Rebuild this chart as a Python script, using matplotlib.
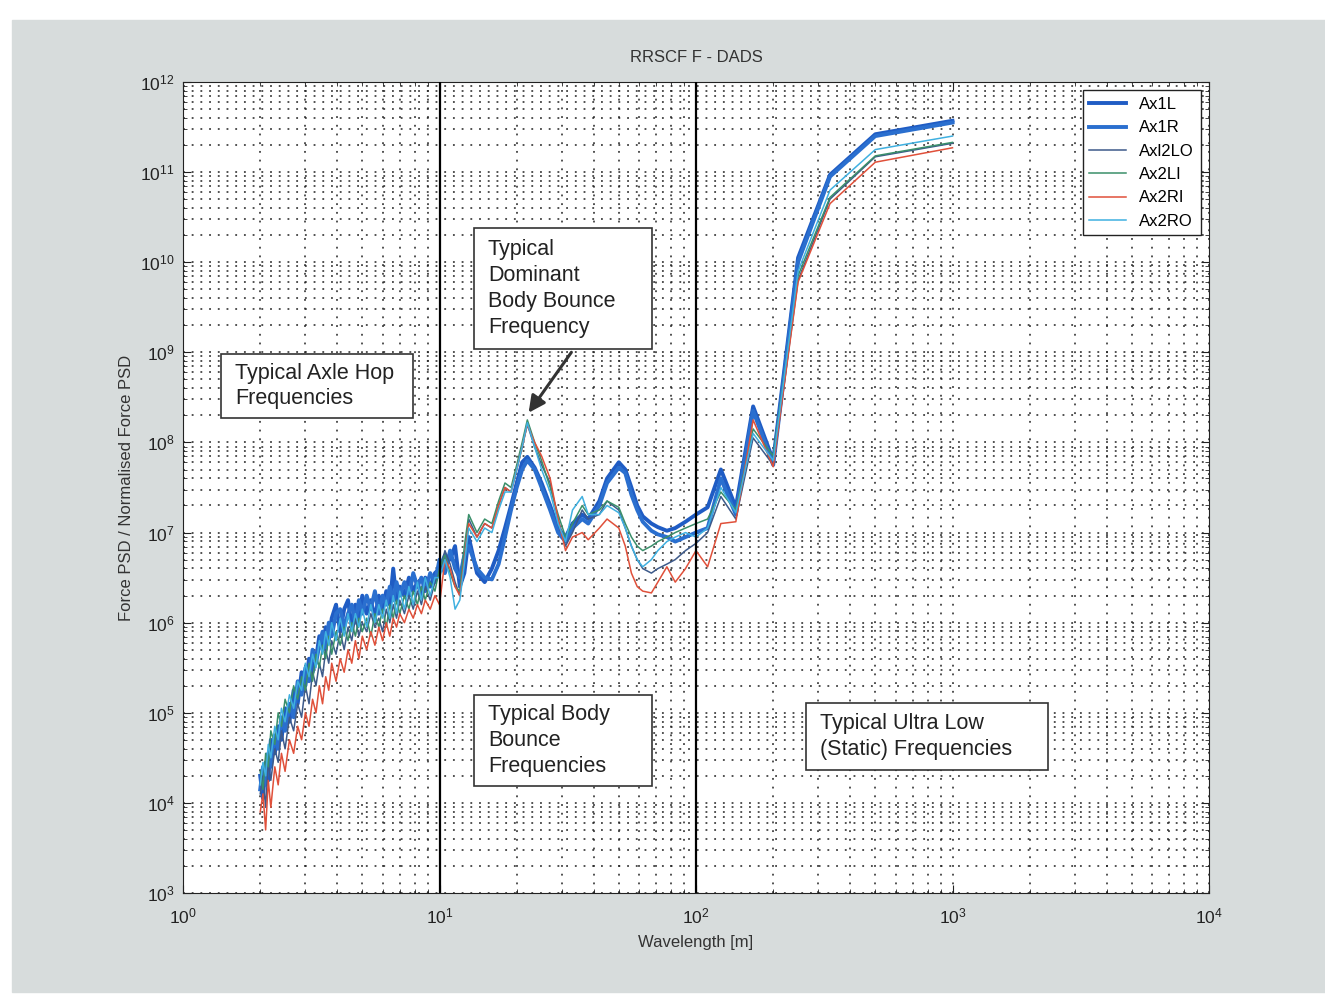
import matplotlib
matplotlib.use("Agg")
import matplotlib.pyplot as plt
from matplotlib.patches import Rectangle
from matplotlib.ticker import NullFormatter

# wavelength grid [m]
wavelength = [2.0, 2.05, 2.1, 2.15, 2.2, 2.28, 2.35, 2.42, 2.5, 2.6,
              2.7, 2.8, 2.9, 3.0, 3.1, 3.2, 3.3, 3.4, 3.5, 3.6,
              3.7, 3.8, 3.95, 4.1, 4.25, 4.4, 4.55, 4.7, 4.85, 5.0,
              5.2, 5.4, 5.6, 5.8, 6.0, 6.2, 6.4, 6.6, 6.8, 7.0,
              7.3, 7.6, 7.9, 8.2, 8.5, 8.8, 9.2, 9.6,
              10, 10.5, 11, 11.5, 12, 12.5, 13, 14, 15, 16,
              17, 18, 19, 20, 21, 22, 23.5, 25, 27, 29,
              31, 33, 36, 38, 42, 45, 50, 53, 56, 59,
              62, 67, 71, 77, 83, 91, 100,
              111, 125, 143, 167, 200, 250, 333, 500, 1000]

# PSD values, stored as log10
ax1l = [4.30, 4.05, 4.45, 4.25, 4.70, 4.55, 4.85, 4.70, 5.05, 4.90,
        5.25, 5.10, 5.45, 5.30, 5.60, 5.45, 5.60, 5.85, 5.70, 5.95,
        5.80, 6.05, 6.20, 5.90, 6.15, 6.25, 5.95, 6.20, 6.05, 6.30,
        6.10, 6.25, 6.05, 6.30, 6.15, 6.35, 6.20, 6.60, 6.25, 6.40,
        6.30, 6.50, 6.35, 6.45, 6.30, 6.50, 6.40, 6.55,
        6.60, 6.75, 6.70, 6.85, 6.40, 6.55, 6.95, 6.55, 6.45, 6.60,
        6.80, 7.05, 7.30, 7.55, 7.78, 7.84, 7.72, 7.55, 7.30, 7.05,
        6.95, 7.10, 7.20, 7.15, 7.35, 7.60, 7.78, 7.70, 7.50, 7.30,
        7.18, 7.10, 7.06, 7.02, 7.05, 7.12, 7.20,
        7.28, 7.70, 7.28, 8.40, 7.80, 10.05, 10.97, 11.42, 11.57]

ax1r = [4.15, 4.40, 4.20, 4.55, 4.40, 4.75, 4.60, 4.95, 4.80, 5.10,
        4.95, 5.35, 5.20, 5.50, 5.35, 5.70, 5.55, 5.75, 5.90, 5.70,
        6.00, 5.85, 6.10, 6.15, 5.95, 6.10, 6.20, 6.00, 6.25, 6.10,
        6.30, 6.15, 6.35, 6.10, 6.30, 6.20, 6.40, 6.25, 6.45, 6.30,
        6.45, 6.30, 6.55, 6.40, 6.50, 6.35, 6.55, 6.45,
        6.70, 6.55, 6.80, 6.60, 6.50, 6.75, 6.85, 6.60, 6.50, 6.48,
        6.65, 6.95, 7.25, 7.50, 7.70, 7.80, 7.70, 7.50, 7.25, 7.00,
        6.90, 7.05, 7.15, 7.10, 7.30, 7.55, 7.72, 7.66, 7.42, 7.25,
        7.12, 7.02, 6.98, 6.95, 6.90, 6.95, 7.00,
        7.05, 7.60, 7.20, 8.35, 7.75, 10.00, 10.95, 11.40, 11.55]

axl2lo = [4.10, 4.30, 3.95, 4.45, 4.25, 4.60, 4.45, 4.80, 4.60, 4.95,
          4.80, 5.10, 4.95, 5.30, 5.10, 5.45, 5.30, 5.55, 5.40, 5.70,
          5.55, 5.80, 5.65, 5.90, 5.70, 5.95, 5.80, 6.05, 5.85, 6.00,
          5.90, 6.10, 5.95, 6.05, 5.90, 6.15, 6.00, 6.20, 6.05, 6.25,
          6.10, 6.30, 6.15, 6.35, 6.20, 6.40, 6.25, 6.45,
          6.55, 6.80, 6.65, 6.45, 6.30, 6.70, 7.15, 6.95, 7.10, 7.05,
          7.30, 7.50, 7.45, 7.70, 7.95, 8.20, 7.95, 7.75, 7.55, 7.15,
          6.85, 7.00, 7.25, 7.15, 7.20, 7.35, 7.25, 7.05, 6.85, 6.70,
          6.60, 6.55, 6.60, 6.65, 6.70, 6.80, 6.88,
          7.00, 7.40, 7.15, 8.05, 7.75, 9.80, 10.70, 11.17, 11.32]

ax2li = [4.35, 4.15, 4.55, 4.40, 4.80, 4.65, 5.00, 4.85, 5.15, 5.00,
         5.30, 5.15, 5.40, 5.25, 5.55, 5.35, 5.65, 5.50, 5.75, 5.60,
         5.85, 5.65, 5.90, 5.75, 5.95, 5.80, 6.00, 5.85, 6.05, 5.90,
         6.05, 5.85, 6.10, 5.95, 6.15, 5.95, 6.20, 6.05, 6.25, 6.10,
         6.30, 6.15, 6.35, 6.20, 6.40, 6.25, 6.45, 6.35,
         6.60, 6.75, 6.55, 6.40, 6.35, 6.85, 7.20, 7.00, 7.15, 7.10,
         7.35, 7.55, 7.50, 7.75, 8.00, 8.25, 8.00, 7.80, 7.50, 7.20,
         6.95, 7.10, 7.30, 7.20, 7.25, 7.35, 7.28, 7.10, 6.95, 6.85,
         6.80, 6.85, 6.90, 6.95, 7.00, 7.05, 7.10,
         7.15, 7.45, 7.25, 8.15, 7.85, 9.85, 10.72, 11.18, 11.33]

ax2ri = [3.90, 4.10, 3.70, 4.25, 3.95, 4.40, 4.20, 4.55, 4.35, 4.70,
         4.55, 4.85, 4.70, 5.00, 4.85, 5.15, 5.00, 5.30, 5.10, 5.40,
         5.25, 5.55, 5.35, 5.60, 5.45, 5.70, 5.55, 5.80, 5.60, 5.85,
         5.70, 5.90, 5.75, 5.95, 5.80, 6.00, 5.85, 6.05, 5.95, 6.10,
         6.00, 6.15, 6.05, 6.20, 6.10, 6.25, 6.15, 6.30,
         6.20, 6.70, 6.60, 6.40, 6.30, 6.70, 7.10, 6.95, 7.10, 7.05,
         7.30, 7.50, 7.45, 7.70, 7.95, 8.20, 8.00, 7.85, 7.60, 7.15,
         6.80, 6.95, 7.00, 6.92, 7.05, 7.15, 7.05, 6.85, 6.55, 6.40,
         6.35, 6.33, 6.45, 6.62, 6.45, 6.60, 6.80,
         6.62, 7.10, 7.12, 8.25, 7.73, 9.78, 10.65, 11.11, 11.27]

ax2ro = [4.20, 4.45, 4.30, 4.65, 4.50, 4.85, 4.70, 5.05, 4.90, 5.20,
         5.05, 5.35, 5.25, 5.55, 5.40, 5.65, 5.50, 5.80, 5.65, 5.90,
         5.75, 6.00, 5.80, 6.05, 5.85, 6.10, 5.90, 6.10, 5.95, 6.15,
         5.95, 6.20, 6.00, 6.20, 6.05, 6.25, 6.05, 6.30, 6.10, 6.35,
         6.15, 6.40, 6.20, 6.45, 6.25, 6.50, 6.30, 6.50,
         6.50, 6.70, 6.50, 6.15, 6.25, 6.65, 7.05, 6.90, 7.05, 7.00,
         7.25, 7.45, 7.45, 7.70, 7.95, 8.22, 7.95, 7.70, 7.45, 7.10,
         6.90, 7.25, 7.40, 7.20, 7.20, 7.30, 7.22, 7.05, 6.85, 6.70,
         6.62, 6.70, 6.80, 6.90, 6.95, 7.00, 6.95,
         7.05, 7.50, 7.22, 8.10, 7.80, 9.90, 10.80, 11.25, 11.40]

series = [("Ax1L", ax1l, "#1f5cc4", 2.8),
          ("Ax1R", ax1r, "#2a6fcf", 2.8),
          ("Axl2LO", axl2lo, "#3d5a8a", 1.1),
          ("Ax2LI", ax2li, "#3a8f6a", 1.1),
          ("Ax2RI", ax2ri, "#e0503a", 1.1),
          ("Ax2RO", ax2ro, "#3fb0e0", 1.1)]

plt.rcParams["font.family"] = ["Liberation Sans Narrow", "Liberation Sans", "DejaVu Sans"]
plt.rcParams["mathtext.default"] = "regular"

W, H = 1325, 1002
fig = plt.figure(figsize=(W / 100, H / 100), dpi=100)
fig.patch.set_facecolor("white")
fig.patches.append(Rectangle((12 / W, 1 - 992 / H), (W - 12) / W, (992 - 20) / H,
                             transform=fig.transFigure, color="#d7dcdc", zorder=-5))

# axes box in pixels: x 183..1209, y 82..893
AX_L, AX_R, AX_T, AX_B = 183, 1209, 82, 893
ax = fig.add_axes([AX_L / W, 1 - AX_B / H, (AX_R - AX_L) / W, (AX_B - AX_T) / H])
ax.set_facecolor("white")


def frac(px, py):
    return ((px - AX_L) / (AX_R - AX_L), (AX_B - py) / (AX_B - AX_T))


for name, vals, col, lw in series:
    ax.loglog(wavelength, [10 ** v for v in vals], color=col, lw=lw, label=name)

ax.axvline(10, color="black", lw=1.6, zorder=4)
ax.axvline(100, color="black", lw=1.6, zorder=4)

ax.set_xlim(1, 1e4)
ax.set_ylim(1e3, 1e12)
ax.xaxis.set_minor_formatter(NullFormatter())
ax.yaxis.set_minor_formatter(NullFormatter())
ax.grid(True, which="both", linestyle=(0, (1.2, 4.5)), color="#222222", lw=1.1)
ax.tick_params(which="both", direction="in", top=True, right=True, labelsize=12.5, colors="#222222")
ax.tick_params(which="major", length=6)
ax.tick_params(which="minor", length=3)
ax.tick_params(axis="x", pad=10)
ax.tick_params(axis="y", pad=6)
for s in ax.spines.values():
    s.set_color("#222222")

ax.set_xlabel("Wavelength [m]", fontsize=12, color="#333333", labelpad=6)
ax.set_ylabel("Force PSD / Normalised Force PSD", fontsize=12, color="#333333", labelpad=4)
fig.text(696 / W, 1 - 58 / H, "RRSCF F - DADS", fontsize=12, color="#333333",
         ha="center", va="center")

leg = ax.legend(loc="upper right", fontsize=12, fancybox=False, framealpha=1,
                edgecolor="#222222", labelspacing=0.5, handlelength=2.2,
                borderaxespad=0.5)
leg.get_frame().set_linewidth(1.0)

# annotation boxes (pixel corners: left, top, right, bottom)
boxes = [((221, 354, 413, 418), "Typical Axle Hop\nFrequencies"),
         ((474, 228, 652, 349), "Typical\nDominant\nBody Bounce\nFrequency"),
         ((474, 695, 652, 786), "Typical Body\nBounce\nFrequencies"),
         ((806, 703, 1048, 770), "Typical Ultra Low\n(Static) Frequencies")]
for (l, t, r, b), txt in boxes:
    x0, y0 = frac(l, b)
    x1, y1 = frac(r, t)
    ax.add_patch(Rectangle((x0, y0), x1 - x0, y1 - y0, transform=ax.transAxes,
                           facecolor="white", edgecolor="#333333", lw=1.2, zorder=6))
    ax.text(frac(l + 14, 0)[0], (y0 + y1) / 2, txt, transform=ax.transAxes,
            ha="left", va="center", fontsize=15.5, family="Liberation Sans",
            color="#222222", linespacing=1.3, zorder=7)

ax.annotate("", xy=frac(527, 415), xytext=frac(573, 350),
            xycoords="axes fraction", textcoords="axes fraction",
            arrowprops=dict(arrowstyle="-|>,head_length=1.0,head_width=0.5",
                            color="#333333", lw=2.2), zorder=7)

fig.savefig("out.png", dpi=100)
